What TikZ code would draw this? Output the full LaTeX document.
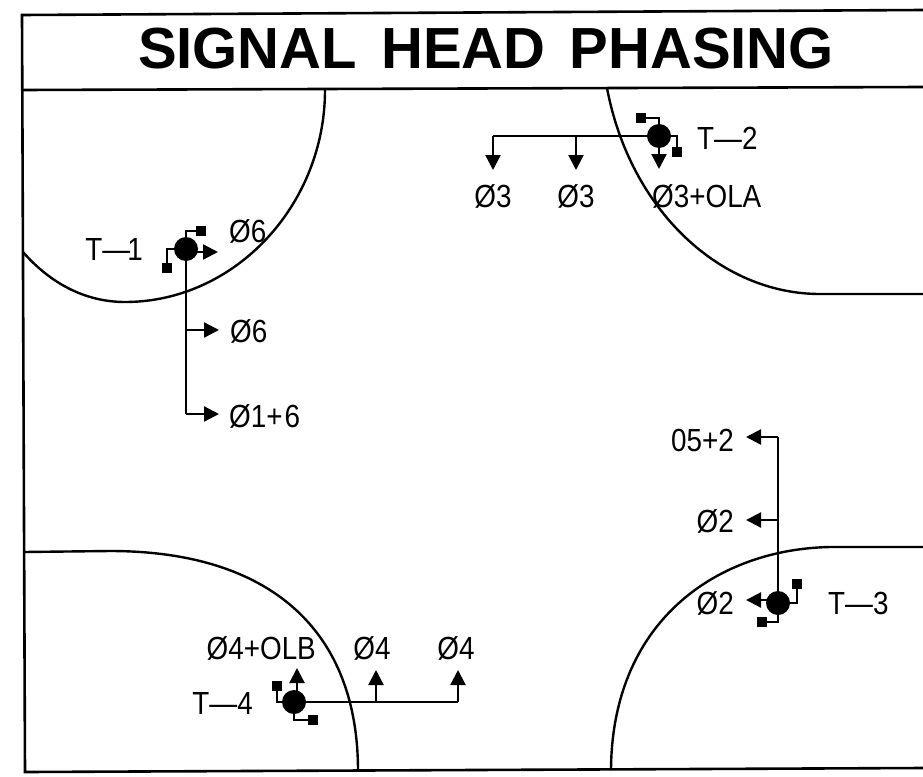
\documentclass[tikz,border=0pt]{standalone}
\usepackage{fontspec}
\setmainfont{Liberation Sans}
\newfontfamily\labfont[FakeStretch=0.87]{Liberation Sans}
\usetikzlibrary{arrows.meta}
\tikzset{x=1pt,y=-1pt,
 curb/.style={line width=2.4pt,black},
 wire/.style={line width=2.3pt,black},
 head/.style={circle,fill=black,inner sep=0pt,minimum size=24pt},
 lamp/.style={rectangle,fill=black,inner sep=0pt,minimum size=10pt},
 tip/.style={-{Triangle[length=15pt,width=15pt]}},
 lab/.style={inner sep=0pt,font=\labfont\fontsize{32}{32}\selectfont},
 ttl/.style={inner sep=0pt,font=\bfseries\fontsize{58}{58}\selectfont}}
\begin{document}
\begin{tikzpicture}
\useasboundingbox (0,0) rectangle (923,776);
\fill[white] (0,0) rectangle (923,776);
\draw[line width=2.6pt] (923,10) -- (22,15) -- (25,772) -- (923,768);
\draw[line width=2.6pt] (22,90) -- (923,87);
\node[ttl] (title) at (486,49) {SIGNAL\hspace{8pt} HEAD\hspace{8pt} PHASING};
\draw[curb] (325,90) .. controls (325,205) and (235,302) .. (125,302) .. controls (85,302) and (50,283) .. (23,252);
\draw[curb] (607,88) .. controls (630,210) and (720,294) .. (820,294) -- (923,294);
\draw[curb] (923,547) -- (840,547) .. controls (725,545) and (612,615) .. (611,770);
\draw[curb] (24,552) -- (110,551) .. controls (270,551) and (358,630) .. (358,771);
% T-1
\node[head] (h1) at (186,249) {};
\node[lamp] (l1a) at (201,231) {};
\node[lamp] (l1b) at (167,268) {};
\coordinate (a1) at (218,252);
\coordinate (e1) at (186,330);
\coordinate (f1) at (186,414);
\coordinate (a1b) at (219,330);
\coordinate (a1c) at (219,414);
\draw[wire] (h1.center) |- (l1a);
\draw[wire] (h1.center) -| (l1b);
\draw[wire,tip] (h1.center |- a1) -- (a1);
\draw[wire] (h1) -- (f1);
\draw[wire,tip] (e1) -- (a1b);
\draw[wire,tip] (f1) -- (a1c);
\node[lab,anchor=east] (t1) at (143,249) {T—\kern-3pt 1};
\node[lab,anchor=west] (p1) at (229,231) {Ø6};
\node[lab,anchor=west] (p2) at (230,331) {Ø6};
\node[lab,anchor=west] (p3) at (229,416) {Ø1+\kern2pt 6};
% T-2
\node[head] (h2) at (659,136) {};
\node[lamp] (l2a) at (641,118) {};
\node[lamp] (l2b) at (677,152) {};
\coordinate (c2) at (493,136);
\coordinate (m2) at (576,136);
\coordinate (a2) at (659,169);
\coordinate (a2b) at (493,170);
\coordinate (a2c) at (576,170);
\draw[wire] (h2.center) |- (l2a);
\draw[wire] (h2.center) -| (l2b);
\draw[wire,tip] (h2) -- (a2);
\draw[wire] (h2) -- (c2);
\draw[wire,tip] (c2) -- (a2b);
\draw[wire,tip] (m2) -- (a2c);
\node[lab] at (493,196) {Ø3};
\node[lab] at (576,196) {Ø3};
\node[lab,anchor=west] at (652,196) {Ø3+OLA};
\node[lab,anchor=west] at (697,138) {T—2};
% T-3
\node[head] (h3) at (778,603) {};
\node[lamp] (l3a) at (797,584) {};
\node[lamp] (l3b) at (762,622) {};
\coordinate (t3) at (778,437);
\coordinate (m3) at (778,520);
\coordinate (a3) at (746,600);
\coordinate (a3b) at (746,520);
\coordinate (a3c) at (746,437);
\draw[wire] (h3.center) -| (l3a);
\draw[wire] (h3.center) |- (l3b);
\draw[wire,tip] (h3.center |- a3) -- (a3);
\draw[wire] (h3) -- (t3);
\draw[wire,tip] (m3) -- (a3b);
\draw[wire,tip] (t3) -- (a3c);
\node[lab,anchor=east] at (734,440) {05+2};
\node[lab,anchor=east] at (734,521) {Ø2};
\node[lab,anchor=east] at (734,603) {Ø2};
\node[lab,anchor=west] at (828,603) {T—3};
% T-4
\node[head] (h4) at (294,702) {};
\node[lamp] (l4a) at (277,686) {};
\node[lamp] (l4b) at (313,720) {};
\coordinate (c4) at (458,702);
\coordinate (m4) at (376,702);
\coordinate (a4) at (297,668);
\coordinate (a4b) at (376,670);
\coordinate (a4c) at (458,670);
\draw[wire] (h4.center) -| (l4a);
\draw[wire] (h4.center) |- (l4b);
\draw[wire,tip] (h4.center -| a4) -- (a4);
\draw[wire] (h4) -- (c4);
\draw[wire,tip] (m4) -- (a4b);
\draw[wire,tip] (c4) -- (a4c);
\node[lab] at (372,648) {Ø4};
\node[lab] at (456,648) {Ø4};
\node[lab,anchor=east] at (316,648) {Ø4+OLB};
\node[lab,anchor=east] at (253,703) {T—4};
\end{tikzpicture}
\end{document}
